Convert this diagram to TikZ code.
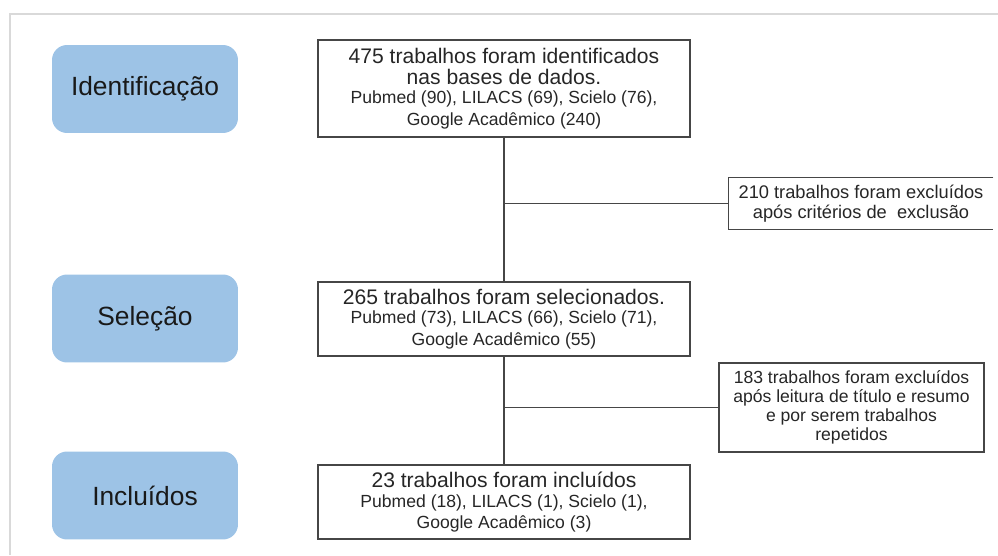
\documentclass[tikz,border=0pt]{standalone}
\usepackage{fontspec}
\setmainfont{Liberation Sans}
\usepackage{tikz}
\usetikzlibrary{positioning}
\definecolor{etapablue}{RGB}{157, 195, 230}
\definecolor{linegray}{RGB}{70, 70, 70}
\newcommand{\grande}{\fontsize{12}{12.8}\selectfont}
\newcommand{\pequeno}{\fontsize{10}{10.8}\selectfont}

\begin{document}
\begin{tikzpicture}[x=0.02cm, y=-0.02cm,
        etapa/.style={fill=etapablue, rounded corners=0.3cm, minimum width=3.72cm, minimum height=1.76cm, font=\fontsize{15}{18}\selectfont, text=black!90},
        caixa/.style={draw=linegray, line width=0.8pt, minimum width=7.44cm, align=center, text=black!85, inner sep=2pt},
        exclui/.style={minimum width=5.3cm, align=center, font=\pequeno, text=black!85, inner sep=2pt},
        conn/.style={draw=linegray, line width=0.8pt}
      ]
        \useasboundingbox (0,0) rectangle (998,555);
        % moldura (sombra)
        \draw[black!15, line width=1.5pt] (10,555) -- (10,14) -- (998,14);

        % etapas
        \node[etapa] (ident) at (145,89) {Identificação};
        \node[etapa] (selec) at (145,318.5) {Seleção};
        \node[etapa] (incl) at (145,495.5) {Incluídos};

        % caixas principais
        \node[caixa, minimum height=1.94cm] (b1) at (504,88.5) {\grande 475 trabalhos foram identificados\\ \grande nas bases de dados.\\[-1pt]
          \pequeno Pubmed (90), LILACS (69), Scielo (76),\\ \pequeno Google Acadêmico (240)};
        \node[caixa, minimum height=1.48cm] (b2) at (504,319) {\grande 265 trabalhos foram selecionados.\\[-1pt]
          \pequeno Pubmed (73), LILACS (66), Scielo (71),\\ \pequeno Google Acadêmico (55)};
        \node[caixa, minimum height=1.48cm] (b3) at (504,502) {\grande 23 trabalhos foram incluídos\\[-1pt]
          \pequeno Pubmed (18), LILACS (1), Scielo (1),\\ \pequeno Google Acadêmico (3)};

        % exclusões
        \node[exclui, font=\fontsize{10.4}{11.4}\selectfont, minimum width=5.28cm, minimum height=1.02cm] (e1) at (861,203.5) {210 trabalhos foram excluídos\\ após critérios de \ exclusão};
        \draw[conn] (e1.north east) -- (e1.north west) -- (e1.south west) -- (e1.south east);
        \node[exclui, draw=linegray, line width=0.8pt, minimum height=1.78cm] (e2) at (851.5,407.5) {183 trabalhos foram excluídos\\ após leitura de título e resumo\\ e por serem trabalhos\\ repetidos};

        % ligações
        \coordinate (j1) at (b1.south |- e1.west);
        \coordinate (j2) at (b2.south |- e2.west);
        \draw[conn] (b1.south) -- (b2.north);
        \draw[conn] (b2.south) -- (b3.north);
        \draw[conn] (j1) -- (e1.west);
        \draw[conn] (j2) -- (e2.west);
      \end{tikzpicture}
\end{document}
